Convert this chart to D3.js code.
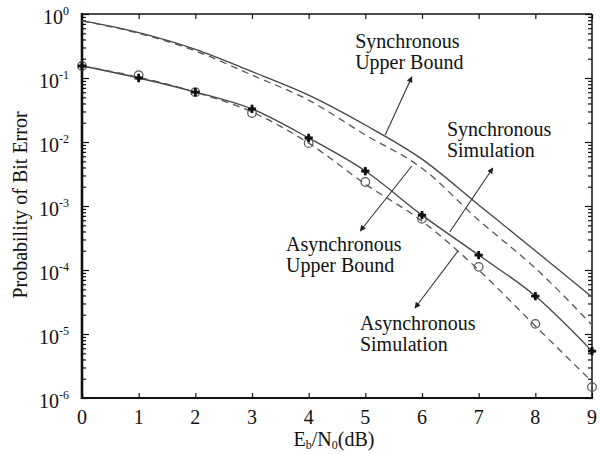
<!DOCTYPE html>
<html>
<head>
<meta charset="utf-8">
<script src="https://cdn.jsdelivr.net/npm/d3@7"></script>
<style>
  body { margin: 0; background: #fff; }
</style>
</head>
<body>
<svg id="chart" width="600" height="454" font-family="'Liberation Serif', 'DejaVu Serif', 'Times New Roman', Times, serif"></svg>
<script>
// Eb/N0 in dB
const ebn0 = [0, 1, 2, 3, 4, 5, 6, 7, 8, 9];

// Bit error probability curves
const syncUpperBound  = [0.785, 0.51, 0.28, 0.126, 0.054, 0.0184, 0.0054, 0.00104, 2.0e-4, 3.8e-5];
const syncSimulation  = [0.78, 0.50, 0.265, 0.111, 0.045, 0.0129, 0.0039, 6.0e-4, 1.07e-4, 1.38e-5];
const asyncUpperBound = [0.154, 0.100, 0.0604, 0.0328, 0.01155, 0.00352, 7.2e-4, 1.71e-4, 3.92e-5, 5.4e-6];
const asyncSimCurve   = [0.154, 0.103, 0.060, 0.0294, 0.0096, 0.0022, 5.8e-4, 1.0e-4, 1.33e-5, 1.8e-6];
const asyncSimPoints  = [0.154, 0.111, 0.060, 0.0284, 0.0096, 0.00237, 6.3e-4, 1.12e-4, 1.44e-5, 1.48e-6];

// Axis ticks
const xTicks = [0, 1, 2, 3, 4, 5, 6, 7, 8, 9];
const yExponents = [0, -1, -2, -3, -4, -5, -6];

// Callout labels: text lines, anchor (dB, probability), arrow from -> to
const calloutLines = [["Synchronous", "Upper Bound"], ["Synchronous", "Simulation"], ["Asynchronous", "Upper Bound"], ["Asynchronous", "Simulation"]];
const calloutAnchor = [[4.82, 0.294], [6.44, 0.0124], [3.60, 1.98e-4], [4.905, 1.155e-5]];
const arrowFrom = [[5.35, 0.0129], [6.49, 3.92e-4], [5.82, 4.22e-3], [6.635, 1.98e-4]];
const arrowTo   = [[5.82, 0.104], [7.25, 3.92e-3], [4.91, 4.07e-4], [5.876, 2.55e-5]];

const svg = d3.select("#chart");
const plotLeft = 82, plotRight = 592, plotTop = 14, plotBottom = 398;

const x = d3.scaleLinear().domain([0, 9]).range([plotLeft, plotRight]);
const y = d3.scaleLog().domain([1e-6, 1]).range([plotBottom, plotTop]);

const defs = svg.append("defs");
defs.append("marker")
  .attr("id", "arrowhead")
  .attr("viewBox", "0 0 10 10")
  .attr("refX", 9).attr("refY", 5)
  .attr("markerWidth", 8).attr("markerHeight", 6)
  .attr("markerUnits", "userSpaceOnUse")
  .attr("orient", "auto")
  .append("path").attr("d", "M0,0 L10,5 L0,10 Z").attr("fill", "#222");

// Minor and major ticks
const minorVals = [];
for (let e = -6; e < 0; e++) for (let m = 2; m <= 9; m++) minorVals.push(m * Math.pow(10, e));
const majorVals = yExponents.map(e => Math.pow(10, e));

const axisG = svg.append("g");

function yAxisPair(vals, len) {
  axisG.append("g").attr("transform", `translate(${plotLeft},0)`)
    .call(d3.axisRight(y).tickValues(vals).tickSize(len).tickFormat(""));
  axisG.append("g").attr("transform", `translate(${plotRight},0)`)
    .call(d3.axisLeft(y).tickValues(vals).tickSize(len).tickFormat(""));
}
yAxisPair(minorVals, 4);
yAxisPair(majorVals, 7);

axisG.append("g").attr("transform", `translate(0,${plotBottom})`)
  .call(d3.axisTop(x).tickValues(xTicks).tickSize(5).tickFormat(""));
axisG.append("g").attr("transform", `translate(0,${plotTop})`)
  .call(d3.axisBottom(x).tickValues(xTicks).tickSize(5).tickFormat(""));

axisG.selectAll(".domain").remove();
axisG.selectAll(".tick line").attr("stroke", "#111").attr("stroke-width", 1.2);

// Frame
svg.append("line").attr("x1", plotLeft).attr("x2", plotRight).attr("y1", plotTop).attr("y2", plotTop)
  .attr("stroke", "#111").attr("stroke-width", 1.5);
svg.append("line").attr("x1", plotRight).attr("x2", plotRight).attr("y1", plotTop).attr("y2", plotBottom)
  .attr("stroke", "#111").attr("stroke-width", 1.5);
svg.append("line").attr("x1", plotLeft).attr("x2", plotRight + 1).attr("y1", plotBottom).attr("y2", plotBottom)
  .attr("stroke", "#111").attr("stroke-width", 2.2);
svg.append("line").attr("x1", plotLeft).attr("x2", plotLeft).attr("y1", plotTop - 1).attr("y2", plotBottom + 1)
  .attr("stroke", "#111").attr("stroke-width", 2.6);

// Tick labels
svg.append("g").selectAll("text").data(xTicks).join("text")
  .attr("x", d => x(d)).attr("y", plotBottom + 26)
  .attr("text-anchor", "middle").attr("font-size", 20).attr("fill", "#111")
  .text(d => d);

const yl = svg.append("g").selectAll("text").data(yExponents).join("text")
  .attr("x", 69).attr("y", d => y(Math.pow(10, d)) + 10)
  .attr("text-anchor", "end").attr("font-size", 20).attr("fill", "#111");
yl.append("tspan").text("10");
yl.append("tspan").attr("font-size", 12).attr("dy", -9).text(d => d === 0 ? "0" : "-" + Math.abs(d));

// Axis titles
const xt = svg.append("text").attr("x", 334).attr("y", 446)
  .attr("text-anchor", "middle").attr("font-size", 20).attr("fill", "#111");
xt.append("tspan").text("E");
xt.append("tspan").attr("font-size", 12).attr("dy", 3).text("b");
xt.append("tspan").attr("dy", -3).text("/N");
xt.append("tspan").attr("font-size", 12).attr("dy", 3).text("0");
xt.append("tspan").attr("dy", -3).text("(dB)");

svg.append("text")
  .attr("transform", "translate(27,205) rotate(-90)")
  .attr("text-anchor", "middle").attr("font-size", 20).attr("fill", "#111")
  .text("Probability of Bit Error");

// Curves
const line = d3.line().x((d, i) => x(ebn0[i])).y(d => y(d)).curve(d3.curveMonotoneX);
const curves = svg.append("g").attr("fill", "none");
curves.append("path").attr("d", line(syncUpperBound)).attr("stroke", "#444").attr("stroke-width", 1.3);
curves.append("path").attr("d", line(syncSimulation)).attr("stroke", "#555").attr("stroke-width", 1.3).attr("stroke-dasharray", "7,5");
curves.append("path").attr("d", line(asyncUpperBound)).attr("stroke", "#444").attr("stroke-width", 1.3);
curves.append("path").attr("d", line(asyncSimCurve)).attr("stroke", "#555").attr("stroke-width", 1.3).attr("stroke-dasharray", "7,5");

// Markers
svg.append("g").selectAll("circle").data(asyncSimPoints).join("circle")
  .attr("cx", (d, i) => x(ebn0[i])).attr("cy", d => y(d)).attr("r", 4.3)
  .attr("fill", "none").attr("stroke", "#555").attr("stroke-width", 1.2);

const starG = svg.append("g").selectAll("g").data(asyncUpperBound).join("g")
  .attr("transform", (d, i) => `translate(${x(ebn0[i])},${y(d)})`);
starG.append("path").attr("d", d3.symbol(d3.symbolCross, 38)()).attr("fill", "#111");
starG.append("path").attr("d", d3.symbol(d3.symbolDiamond, 22)()).attr("fill", "#111");

// Callouts
const callouts = svg.append("g");
calloutLines.forEach((lines, i) => {
  callouts.append("line")
    .attr("x1", x(arrowFrom[i][0])).attr("y1", y(arrowFrom[i][1]))
    .attr("x2", x(arrowTo[i][0])).attr("y2", y(arrowTo[i][1]))
    .attr("stroke", "#333").attr("stroke-width", 1.1)
    .attr("marker-end", "url(#arrowhead)");
  const t = callouts.append("text")
    .attr("x", x(calloutAnchor[i][0])).attr("y", y(calloutAnchor[i][1]))
    .attr("font-size", 20).attr("fill", "#111");
  lines.forEach((s, k) => t.append("tspan")
    .attr("x", x(calloutAnchor[i][0])).attr("dy", k === 0 ? 0 : 21).text(s));
});
</script>
</body>
</html>
